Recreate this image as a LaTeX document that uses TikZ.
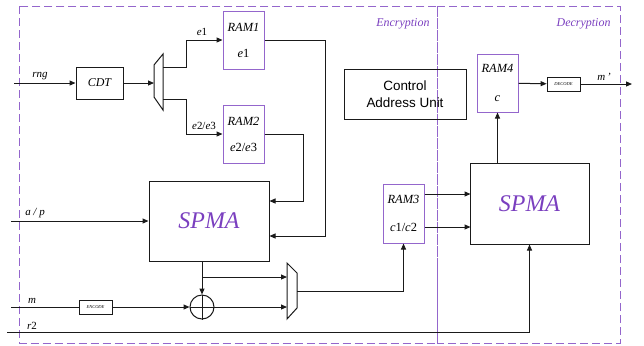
\documentclass[tikz,border=0pt]{standalone}
\usepackage{fontspec}
\setmainfont{Liberation Serif}
\setsansfont{Liberation Sans}
\usepackage{tikz}
\usetikzlibrary{arrows.meta,positioning,calc}
\definecolor{lilac}{HTML}{9466CC}
\definecolor{plum}{HTML}{7A3FBF}
\definecolor{ink}{HTML}{1A1A1A}
\tikzset{
  blk/.style={draw=ink,line width=1bp,inner sep=0pt,font=\fontsize{12}{14}\selectfont\itshape},
  ram/.style={draw=lilac,line width=1bp,inner sep=0pt,minimum width=41bp,minimum height=58bp,align=center,font=\fontsize{12.5}{14}\selectfont},
  core/.style={draw=ink,line width=1bp,minimum width=120bp,minimum height=80bp,text=plum,font=\fontsize{24}{28}\selectfont\itshape},
  tag/.style={draw=ink,line width=0.8bp,inner sep=0pt,minimum width=33bp,minimum height=14bp,font=\fontsize{4.5}{5}\selectfont\itshape},
  zone/.style={draw=lilac,line width=1bp,dash pattern=on 8bp off 4bp},
  lbl/.style={inner sep=1pt,font=\fontsize{11}{13}\selectfont\itshape},
  arr/.style={-{Triangle[length=6bp,width=5bp]},line width=1bp,color=ink},
  wire/.style={line width=1bp,color=ink}
}
\begin{document}
\begin{tikzpicture}[x=1bp,y=-1bp]
  \useasboundingbox (0,0) rectangle (644,345);
  % zones
  \draw[zone] (19.5,6) rectangle (437,343);
  \draw[zone] (437,6) rectangle (620,343);
  \node[anchor=east,text=plum,font=\fontsize{12}{14}\selectfont\itshape] (enczone) at (433,24) {Encryption};
  \node[anchor=east,text=plum,font=\fontsize{12}{14}\selectfont\itshape] (deczone) at (614,24) {Decryption};

  % blocks
  \node[blk,minimum width=47bp,minimum height=32bp] (cdt) at (99.5,83) {CDT};
  \node[ram] (ram1) at (243.5,40) {\textit{RAM1}\\[12bp]\textit{e}1};
  \node[ram] (ram2) at (243.5,134) {\textit{RAM2}\\[12bp]\textit{e}2/\textit{e}3};
  \node[ram,minimum height=59bp] (ram3) at (403.5,213.5) {\textit{RAM3}\\[14bp]\textit{c}1/\textit{c}2};
  \node[ram] (ram4) at (497.5,83) {\textit{RAM4}\\[15bp]\textit{c}};
  \node[core] (spma1) at (209,221) {SPMA};
  \node[core,minimum width=119bp,minimum height=81bp] (spma2) at (529.5,203.5) {SPMA};
  \node[draw=ink,line width=1bp,minimum width=122bp,minimum height=50bp,align=center,
        font=\fontsize{13.5}{16.5}\selectfont\sffamily] (cau) at (405,94) {Control\\Address Unit};
  \node[tag] (enc) at (95.5,307) {ENCODE};
  \node[tag] (dec) at (563.5,84) {DECODE};
  \node[draw=ink,line width=1bp,circle,minimum size=24bp,inner sep=0pt] (xor) at (202,307) {};
  \draw[wire] (xor.north) -- (xor.south) (xor.west) -- (xor.east);

  % multiplexers
  \draw[wire] (154,65) -- (163,54) -- (163,110) -- (154,97) -- cycle;
  \draw[wire] (287,263) -- (297,273) -- (297,308) -- (287,319) -- cycle;
  \coordinate (m1in) at (154,83);
  \coordinate (m1o1) at (163,67);
  \coordinate (m1o2) at (163,99);
  \coordinate (m2i1) at (287,277);
  \coordinate (m2i2) at (287,307);
  \coordinate (m2o) at (297,291);

  % inputs and outputs
  \coordinate (rngin) at (14,83);
  \coordinate (apin) at (11,221);
  \coordinate (min) at (11,307);
  \coordinate (r2in) at (7,332);
  \coordinate (mout) at (632,84);
  \coordinate (br) at (202,277);

  % connectors
  \draw[arr] (rngin) -- (cdt);
  \draw[arr] (cdt) -- (m1in);
  \draw[arr] (m1o1) -- ++(23,0) |- (ram1.west);
  \draw[arr] (m1o2) -- ++(23,0) |- (ram2.west);
  \draw[arr] (ram1.east) -- ++(61,0) |- ([yshift=-15bp]spma1.east);
  \draw[arr] (ram2.east) -- ++(39,0) |- ([yshift=20bp]spma1.east);
  \draw[arr] (apin) -- (spma1);
  \draw[arr] (spma1.south -| xor) -- (xor.north);
  \draw[arr] (br) -- (m2i1);
  \draw[wire] (min) -- (enc);
  \draw[arr] (enc) -- (xor);
  \draw[arr] (xor) -- (m2i2);
  \draw[arr] (m2o) -| (ram3.south);
  \draw[arr] (r2in) -| (spma2.south);
  \draw[arr] ([yshift=19.5bp]ram3.east) -- ++(46,0);
  \draw[arr] ([yshift=-13.5bp]ram3.east) -- ++(46,0);
  \draw[arr] (ram4.south |- spma2.north) -- (ram4.south);
  \draw[arr] (ram4) -- (dec);
  \draw[arr] (dec) -- (mout);

  % signal names
  \node[lbl] (lrng) at (40,76) {rng};
  \node[lbl] (le1) at (202,32) {e\upshape1};
  \node[lbl] (le23) at (204,126) {e\upshape2/\itshape e\upshape3};
  \node[lbl] (lap) at (35,213) {a / p};
  \node[lbl] (lm) at (32,301) {m};
  \node[lbl] (lr2) at (32,326) {r\upshape2};
  \node[lbl] (lmo) at (604,77) {m\,'};
\end{tikzpicture}
\end{document}
